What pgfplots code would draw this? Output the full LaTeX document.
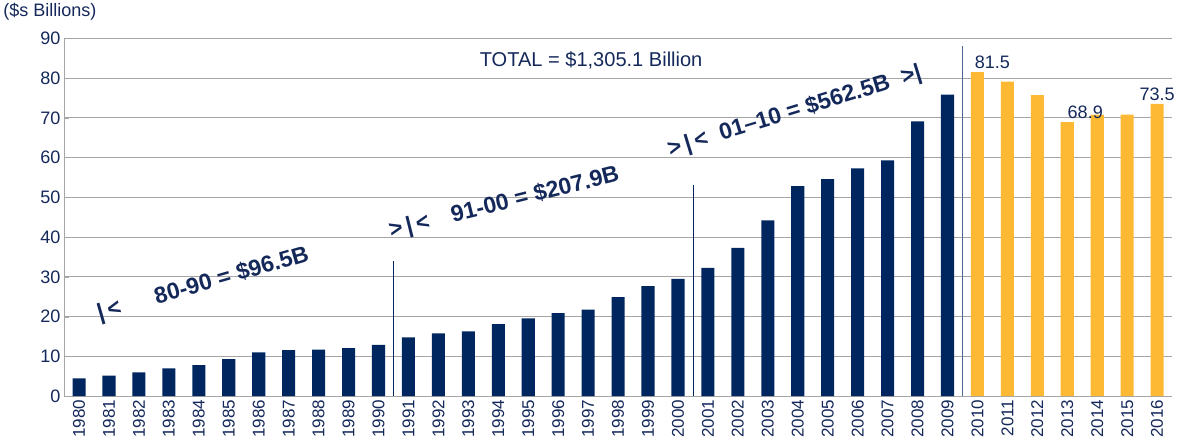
\documentclass[border=0pt]{standalone}
\usepackage{pgfplots}
\pgfplotsset{compat=1.18}
\usepackage{fontspec}
\setmainfont{Liberation Sans}
\definecolor{navy}{RGB}{0,38,96}
\definecolor{gold}{RGB}{253,185,51}
\definecolor{txt}{RGB}{20,40,90}
\begin{document}
\begin{tikzpicture}[x=1bp,y=1bp]
\begin{axis}[
  scale only axis, width=1102bp, height=356bp,
  xmin=-0.5, xmax=36.5, ymin=0, ymax=90,
  ytick={0,10,...,90},
  xtick={0,...,36},
  xticklabels={1980,1981,1982,1983,1984,1985,1986,1987,1988,1989,1990,1991,1992,1993,1994,1995,1996,1997,1998,1999,2000,2001,2002,2003,2004,2005,2006,2007,2008,2009,2010,2011,2012,2013,2014,2015,2016},
  x tick label style={rotate=90, anchor=east, font=\fontsize{17}{17}\selectfont, color=txt},
  y tick label style={font=\fontsize{18}{18}\selectfont, color=txt},
  /pgf/number format/assume math mode=true,
  ymajorgrids, grid style={gray!70, line width=1bp},
  axis x line*=bottom, axis y line*=left,
  axis line style={gray!70, line width=1bp},
  major tick length=5bp, xtick style={gray!70}, ytick style={gray!70},
  xtick pos=bottom, ytick pos=left,
  clip=false,
]
\addplot[ybar, bar width=13bp, fill=navy, draw=none] coordinates {
(0,4.5)(1,5.2)(2,6.0)(3,7.0)(4,7.8)(5,9.3)(6,11.0)(7,11.6)(8,11.7)(9,12.1)(10,12.9)
(11,14.8)(12,15.8)(13,16.3)(14,18.1)(15,19.6)(16,20.9)(17,21.8)(18,24.9)(19,27.7)(20,29.5)
(21,32.3)(22,37.3)(23,44.2)(24,52.8)(25,54.6)(26,57.3)(27,59.3)(28,69.1)(29,75.8)};
\addplot[ybar, bar width=13bp, fill=gold, draw=none] coordinates {
(30,81.5)(31,79.1)(32,75.7)(33,68.9)(34,70.8)(35,70.8)(36,73.5)};
\draw[navy, line width=0.8bp] (axis cs:10.5,0) -- (axis cs:10.5,34);
\draw[navy, line width=0.8bp] (axis cs:20.5,0) -- (axis cs:20.5,53);
\draw[navy!70, line width=0.8bp] (axis cs:29.5,0) -- (axis cs:29.5,88);
\node[txt, font=\fontsize{18}{18}\selectfont, anchor=south] at (axis cs:30.5,81.5) {81.5};
\node[txt, font=\fontsize{18}{18}\selectfont, anchor=south] at (axis cs:33.6,68.9) {68.9};
\node[txt, font=\fontsize{18}{18}\selectfont, anchor=south] at (axis cs:36,73.5) {73.5};
\node[txt, font=\fontsize{20}{20}\selectfont] at (axis cs:17.1,84.5) {TOTAL = \$1,305.1 Billion};
\node[txt, font=\fontsize{23}{23}\selectfont\bfseries, rotate=16] at (axis cs:4.15,28) {|\,<\quad\ \ 80-90 = \$96.5B};
\node[txt, font=\fontsize{23}{23}\selectfont\bfseries, rotate=14] at (axis cs:14.2,48.5) {>\,|\,<\quad 91-00 = \$207.9B};
\node[txt, font=\fontsize{23}{23}\selectfont\bfseries, rotate=17] at (axis cs:23.9,71.5) {>\,|\,<\ \ 01–10 = \$562.5B\ \ >|};
\node[txt, font=\fontsize{18}{18}\selectfont, anchor=south west] at (rel axis cs:-0.058,1.04) {(\$s Billions)};
\end{axis}
\end{tikzpicture}
\end{document}
